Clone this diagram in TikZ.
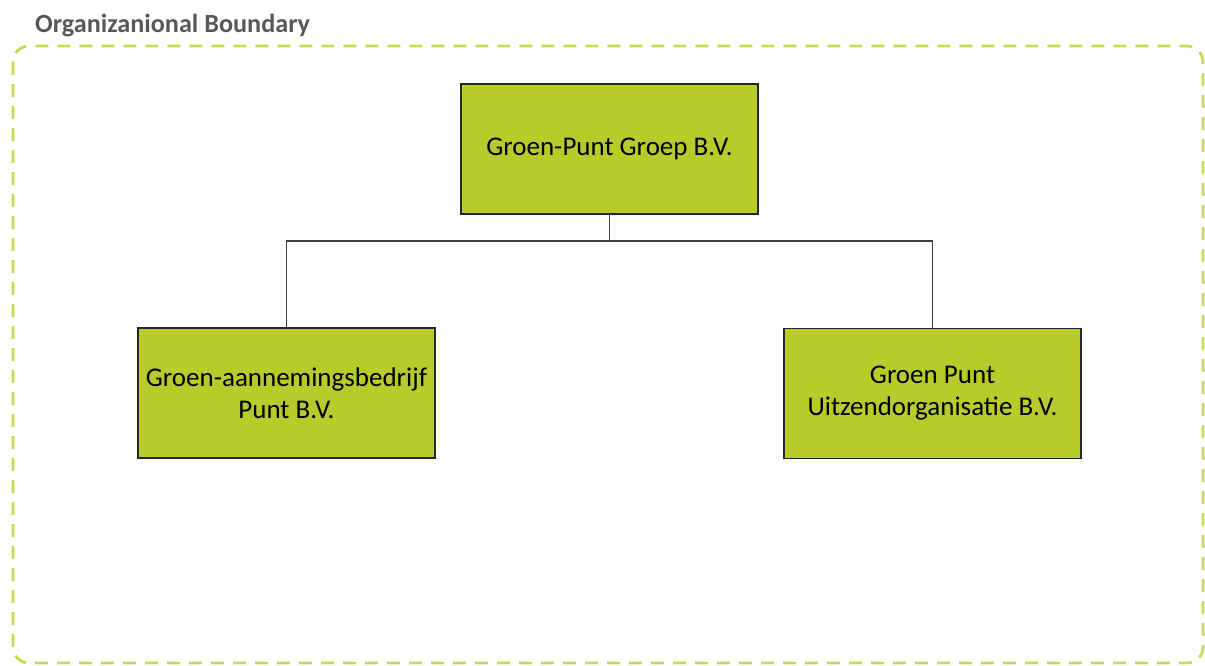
\documentclass[tikz,border=0pt]{standalone}
\usepackage{fontspec}
\setmainfont{Carlito}
\definecolor{boxgreen}{HTML}{B5CC2A}
\definecolor{limeline}{HTML}{C9DA4E}
\definecolor{titlegray}{HTML}{585858}
\tikzset{
  orgbox/.style={draw=black!85, line width=1.3pt, fill=boxgreen, minimum width=297pt, minimum height=130pt, align=center, font=\fontsize{27}{32}\selectfont, inner sep=0pt},
  link/.style={draw=black!75, line width=1.2pt},
  boundary/.style={draw=limeline, line width=2.8pt, dash pattern=on 13pt off 9pt, rounded corners=16pt}
}
\begin{document}
\begin{tikzpicture}[x=1pt,y=-1pt]
\useasboundingbox (0,0) rectangle (1205,665);
\draw[boundary] (13,46) rectangle (1203,663);
\node[anchor=base west, text=titlegray, font=\fontsize{26.2}{30}\selectfont\bfseries, inner sep=0pt] (title) at (35,32) {Organizanional Boundary};
\node[orgbox] (top) at (609.5,149) {Groen-Punt Groep B.V.};
\node[orgbox] (left) at (286.5,393) {Groen-aannemingsbedrijf\\Punt B.V.};
\node[orgbox] (right) at (932.5,393.5) {Groen Punt\\Uitzendorganisatie B.V.};
\coordinate (junction) at (609.5,241);
\draw[link] (top.south) -- (junction);
\draw[link] (left.north) |- (junction) -| (right.north);
\end{tikzpicture}
\end{document}
